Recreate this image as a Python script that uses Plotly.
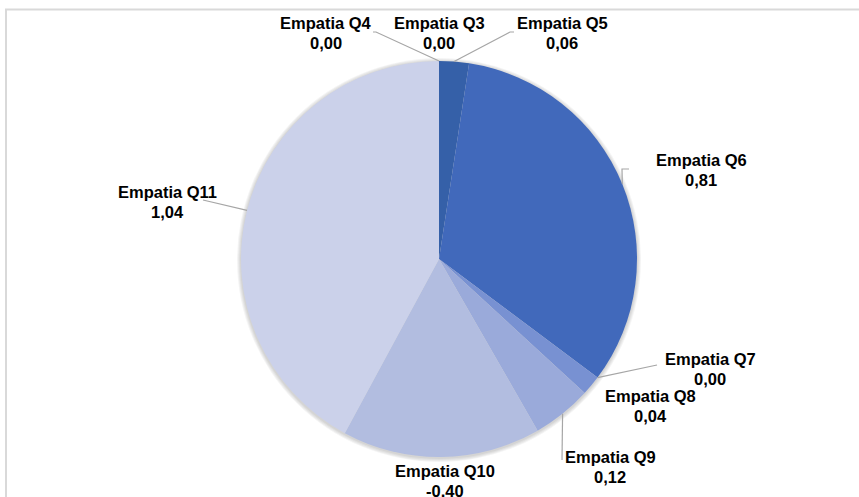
import math
import plotly.graph_objects as go

# ---- data -------------------------------------------------------------
categories = [
    "Empatia Q3", "Empatia Q4", "Empatia Q5", "Empatia Q6", "Empatia Q7",
    "Empatia Q8", "Empatia Q9", "Empatia Q10", "Empatia Q11",
]
scores = [0.00, 0.00, 0.06, 0.81, 0.00, 0.04, 0.12, -0.40, 1.04]
slice_colors = [
    "#25447f", "#2d5291", "#3560a8", "#4169bb", "#5a7dc8",
    "#7891d2", "#9aaada", "#b2bde0", "#cbd1ea",
]

# ---- geometry (pixels) ------------------------------------------------
W, H = 859, 497
CX, CY, R = 439, 259, 198

# label centre (name line / value line) and leader-line bends, in pixels
label_pos = {
    "Empatia Q3": (439, 33),
    "Empatia Q4": (326, 33),
    "Empatia Q5": (562, 33),
    "Empatia Q6": (701, 170),
    "Empatia Q7": (710, 369),
    "Empatia Q8": (650, 406),
    "Empatia Q9": (610, 467),
    "Empatia Q10": (445, 481),
    "Empatia Q11": (167, 202),
}
leader_bends = {
    "Empatia Q4": [(376, 32), (373, 32)],
    "Empatia Q5": [(510, 32), (514, 32)],
    "Empatia Q6": [(622, 169), (629, 169)],
    "Empatia Q7": [(657, 365)],
    "Empatia Q9": [(562, 460)],
    "Empatia Q11": [(203, 200)],
}
LINE_GAP = 19.5
FONT = dict(family="Liberation Sans, Arial, sans-serif", size=16.5, color="#000000")


def px(x):
    return x / W


def py(y):
    return 1 - y / H


def fmt(v):
    return f"{v:.2f}".replace(".", ",")


sizes = [abs(v) for v in scores]
total = sum(sizes)

# mid-angle of each slice, clockwise from 12 o'clock
mid_deg = []
acc = 0.0
for s in sizes:
    mid_deg.append((acc + s / 2) / total * 360)
    acc += s


def edge_point(deg, r=R):
    a = math.radians(deg)
    return CX + r * math.sin(a), CY - r * math.cos(a)


fig = go.Figure()
fig.add_trace(go.Pie(
    labels=categories,
    values=sizes,
    sort=False,
    direction="clockwise",
    rotation=0,
    marker=dict(colors=slice_colors, line=dict(width=0)),
    textinfo="none",
    hoverinfo="label",
    showlegend=False,
    domain=dict(x=[px(CX - R), px(CX + R)], y=[py(CY + R), py(CY - R)]),
))

shapes = []
# chart border
shapes.append(dict(type="rect", xref="paper", yref="paper",
                   x0=px(6), x1=px(W + 6), y0=py(H + 6), y1=py(9.5),
                   line=dict(color="#d9d9d9", width=2), layer="below"))
# soft shadow around the pie
for k in range(1, 5):
    r = R + k
    shapes.append(dict(type="circle", xref="paper", yref="paper",
                       x0=px(CX - r), x1=px(CX + r),
                       y0=py(CY + 1 + r), y1=py(CY + 1 - r),
                       fillcolor="rgba(0,0,0,0.045)", line=dict(width=0),
                       layer="below"))

# leader lines
for name, bends in leader_bends.items():
    i = categories.index(name)
    pts = [edge_point(mid_deg[i])] + bends
    path = "M " + " L ".join(f"{px(x)},{py(y)}" for x, y in pts)
    shapes.append(dict(type="path", xref="paper", yref="paper", path=path,
                       line=dict(color="#a6a6a6", width=1.2)))

annotations = []
for name, v in zip(categories, scores):
    x, y = label_pos[name]
    for text, yy in ((name, y - LINE_GAP / 2), (fmt(v), y + LINE_GAP / 2)):
        annotations.append(dict(
            x=px(x), y=py(yy), xref="paper", yref="paper",
            text=f"<b>{text}</b>", showarrow=False,
            xanchor="center", yanchor="middle", font=FONT,
        ))

fig.update_layout(
    width=W, height=H,
    margin=dict(l=0, r=0, t=0, b=0),
    paper_bgcolor="white",
    plot_bgcolor="white",
    shapes=shapes,
    annotations=annotations,
)

fig.write_html("out.html")
